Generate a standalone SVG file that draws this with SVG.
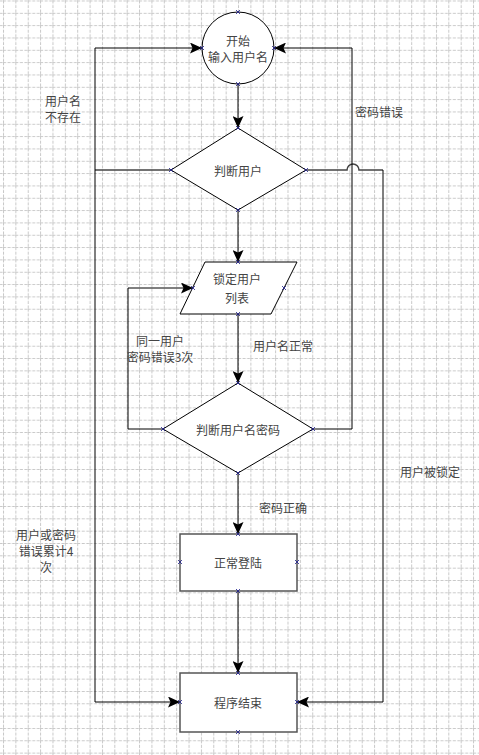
<svg xmlns="http://www.w3.org/2000/svg" width="479" height="755" viewBox="0 0 479 755">
<style>
.shape{fill:#fff;stroke:#000;stroke-width:1}
.box{fill:#fff;stroke:#555;stroke-width:1.5}
.conn{fill:none;stroke:#000;stroke-width:1}
.conn2{fill:none;stroke:#444;stroke-width:1.5}
text{font-family:"Noto Sans CJK SC","Liberation Serif",serif;font-size:12px;fill:#444;text-anchor:middle;dominant-baseline:central}
.pt{fill:none;stroke:#1a1a8c;stroke-width:0.8}
</style>
<defs>
<pattern id="grid" patternUnits="userSpaceOnUse" x="3" y="0.5" width="12.37" height="12.33">
<path d="M0.5,0 V12.33 M0,0.5 H12.37" fill="none" stroke="#c8c8c8" stroke-width="1" stroke-dasharray="3,1.5"/>
</pattern>
<marker id="arr" markerUnits="userSpaceOnUse" viewBox="0 0 12 11" refX="12" refY="5.5" markerWidth="12" markerHeight="11" orient="auto">
<path d="M0,0 L12,5.5 L0,11 L2.5,5.5 z" fill="#000"/>
</marker>
<path id="x" class="pt" d="M-2,-2 L2,2 M-2,2 L2,-2"/>
</defs>
<rect width="479" height="755" fill="#fff"/>
<rect width="479" height="755" fill="url(#grid)"/>

<g id="connectors">
<path class="conn2" d="M171,170 H95"/>
<path class="conn" d="M95,170 V48 H202" marker-end="url(#arr)"/>
<path class="conn" d="M95,170 V702 H180" marker-end="url(#arr)"/>
<path class="conn" d="M238,84 V128" marker-end="url(#arr)"/>
<path class="conn2" d="M306,170 H347 A6,6 0 0 1 359,170 H383"/>
<path class="conn" d="M383,170 V702 H297" marker-end="url(#arr)"/>
<path class="conn" d="M238,210 V262" marker-end="url(#arr)"/>
<path class="conn" d="M238,314 V383" marker-end="url(#arr)"/>
<path class="conn" d="M163,429 H128 V288 H193" marker-end="url(#arr)"/>
<path class="conn" d="M313,429 H352 V48 H274" marker-end="url(#arr)"/>
<path class="conn" d="M238,473 V534" marker-end="url(#arr)"/>
<path class="conn" d="M238,591 V673" marker-end="url(#arr)"/>
</g>

<g id="labels">
<text x="63" y="100">用户名</text>
<text x="63" y="116">不存在</text>
<text x="379" y="111">密码错误</text>
<text x="160" y="340">同一用户</text>
<text x="160" y="356">密码错误3次</text>
<text x="283" y="345">用户名正常</text>
<text x="283" y="507">密码正确</text>
<text x="430" y="471">用户被锁定</text>
<text x="46" y="534">用户或密码</text>
<text x="46" y="550">错误累计4</text>
<text x="46" y="566">次</text>
</g>

<g id="start">
<circle class="shape" cx="238" cy="48" r="36"/>
<text x="238" y="40">开始</text>
<text x="238" y="56">输入用户名</text>
<use href="#x" x="238" y="12"/><use href="#x" x="202" y="48"/><use href="#x" x="274" y="48"/><use href="#x" x="238" y="84"/>
</g>

<g id="check-user">
<polygon class="shape" points="238,128 306,170 238,210 171,170"/>
<text x="238" y="170">判断用户</text>
<use href="#x" x="238" y="128"/><use href="#x" x="171" y="170"/><use href="#x" x="306" y="170"/><use href="#x" x="238" y="210"/>
</g>

<g id="lock-list">
<polygon class="shape" points="205,262 297,262 271,314 180,314"/>
<text x="237" y="278">锁定用户</text>
<text x="237" y="297">列表</text>
<use href="#x" x="238" y="262"/><use href="#x" x="193" y="288"/><use href="#x" x="284" y="288"/><use href="#x" x="238" y="314"/>
</g>

<g id="check-password">
<polygon class="shape" points="238,383 313,429 238,473 163,429"/>
<text x="238" y="429">判断用户名密码</text>
<use href="#x" x="238" y="383"/><use href="#x" x="163" y="429"/><use href="#x" x="313" y="429"/><use href="#x" x="238" y="473"/>
</g>

<g id="login">
<rect class="box" x="180" y="534" width="117" height="57"/>
<text x="238" y="562">正常登陆</text>
<use href="#x" x="238" y="534"/><use href="#x" x="180" y="562"/><use href="#x" x="297" y="562"/><use href="#x" x="238" y="591"/>
</g>

<g id="end">
<rect class="box" x="180" y="673" width="117" height="59"/>
<text x="238" y="702">程序结束</text>
<use href="#x" x="238" y="673"/><use href="#x" x="180" y="702"/><use href="#x" x="297" y="702"/><use href="#x" x="238" y="732"/>
</g>
</svg>
